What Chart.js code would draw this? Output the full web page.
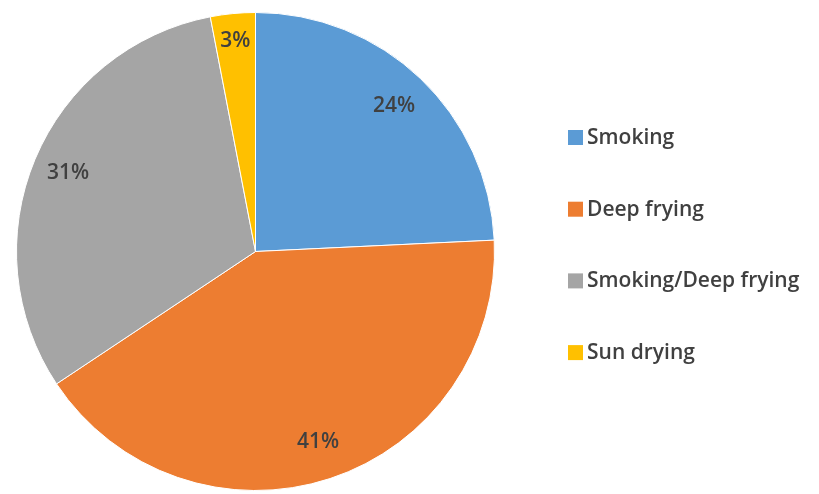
<!DOCTYPE html>
<html>
<head>
<meta charset="utf-8">
<script src="https://cdn.jsdelivr.net/npm/chart.js@4"></script>
<style>
  html, body { margin: 0; padding: 0; background: #fff; }
  #wrap { width: 819px; height: 494px; position: relative; }
</style>
</head>
<body>
<div id="wrap"><canvas id="pie"></canvas></div>
<script>
/* ─── data ─────────────────────────────────────────── */
const methods = ['Smoking', 'Deep frying', 'Smoking/Deep frying', 'Sun drying'];
const shares  = [24, 41, 31, 3];   // percent
const colours = ['#5B9BD5', '#ED7D31', '#A5A5A5', '#FFC000'];

const TEXT = '#404040';
const FONT = '"Open Sans", "Liberation Sans", sans-serif';

/* percentage labels inside the slices */
const sliceLabels = {
  id: 'sliceLabels',
  afterDatasetsDraw(chart, args, opts) {
    const {ctx} = chart;
    const arcs = chart.getDatasetMeta(0).data;
    ctx.save();
    ctx.font = '600 21px ' + FONT;
    ctx.fillStyle = TEXT;
    ctx.textAlign = 'center';
    ctx.textBaseline = 'middle';
    arcs.forEach((arc, i) => {
      const mid = (arc.startAngle + arc.endAngle) / 2;
      const r = arc.outerRadius * opts.radial[i];
      ctx.fillText(shares[i] + '%', arc.x + Math.cos(mid) * r, arc.y + Math.sin(mid) * r);
    });
    ctx.restore();
  }
};

/* legend to the right, drawn from the chart's own labels/colours */
const sideLegend = {
  id: 'sideLegend',
  afterDraw(chart, args, opts) {
    const {ctx} = chart;
    const ds = chart.data.datasets[0];
    ctx.save();
    ctx.font = '600 21px ' + FONT;
    ctx.textBaseline = 'middle';
    chart.data.labels.forEach((lab, i) => {
      const y = opts.top + i * opts.step;
      ctx.fillStyle = ds.backgroundColor[i];
      ctx.fillRect(opts.x, y - 7, 15, 15);
      ctx.fillStyle = TEXT;
      ctx.fillText(lab, opts.x + 19, y + 1);
    });
    ctx.restore();
  }
};

new Chart(document.getElementById('pie'), {
  type: 'pie',
  data: {
    labels: methods,
    datasets: [{
      data: shares,
      backgroundColor: colours,
      borderColor: '#fff',
      borderWidth: 1
    }]
  },
  options: {
    responsive: true,
    maintainAspectRatio: false,
    animation: false,
    layout: { padding: { left: 16, top: 12, right: 324, bottom: 3 } },
    plugins: {
      legend: { display: false },
      tooltip: { enabled: false },
      sliceLabels: { radial: [0.84, 0.84, 0.85, 0.885] },
      sideLegend: { x: 568, top: 137, step: 71.7 }
    }
  },
  plugins: [sliceLabels, sideLegend]
});
</script>
</body>
</html>
